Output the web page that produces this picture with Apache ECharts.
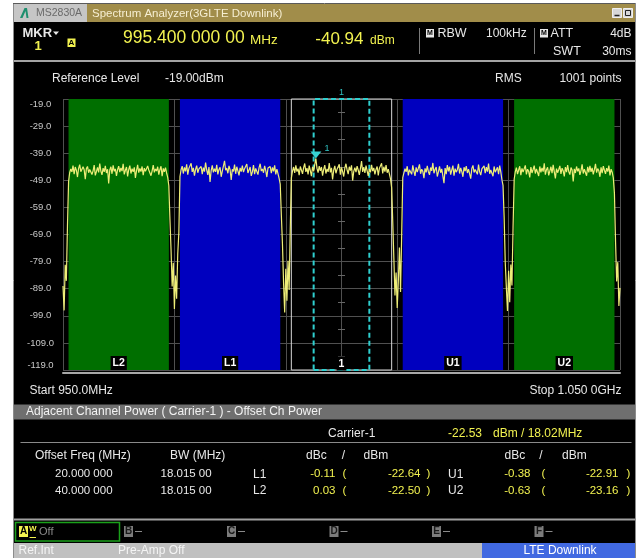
<!DOCTYPE html>
<html>
<head>
<meta charset="utf-8">
<script src="https://cdn.jsdelivr.net/npm/echarts@6/dist/echarts.min.js"></script>
<style>
  html, body { margin: 0; padding: 0; background: #fff; }
  #screen { position: absolute; left: 14px; top: 4px; width: 621px; height: 554px; background: #000; }
  #c { position: absolute; left: 0; top: 0; width: 639px; height: 558px; }
</style>
</head>
<body>
<div id="screen"></div>
<div id="c"></div>
<script>
// ---- sweep settings ----
const sweepStartMHz = 950.0;
const sweepStopMHz = 1050.0;
const stepMHz = 0.2;
const refLevelDbm = -19.0;
const divisionDb = 10;

// ---- channel layout (ACP) ----
const carrierCenterMHz = 1000;
const channelBwMHz = 18.015;
const channelNames = ['L2', 'L1', '1', 'U1', 'U2'];
const channelCentersMHz = [960, 980, 1000, 1020, 1040];

// ---- marker ----
const markerFreqMHz = 995.4;
const markerLevelDbm = -40.94;
const zoneStartMHz = 995;
const zoneStopMHz = 1005;

// ---- ACP results ----
const carrierPowerDbm = -22.53;
const offsetFreqLabels = ['20.000 000', '40.000 000'];
const bwLabels = ['18.015 00', '18.015 00'];
const lowerNames = ['L1', 'L2'];
const upperNames = ['U1', 'U2'];
const lowerDbc = [-0.11, 0.03];
const lowerDbm = [-22.64, -22.50];
const upperDbc = [-0.38, -0.63];
const upperDbm = [-22.91, -23.16];

// ---- trace (dBm), 0.2 MHz per point, one segment per region ----
const skirtStart = [-88.0, -97.0, -80.2, -86.1, -66.0];
const chL2 = [
  -49.5, -46.2, -44.8, -45.9, -43.6, -46.7, -44.1, -45.3, -47.8, -44.6,
  -43.2, -45.8, -46.4, -44.0, -45.1, -48.6, -44.7, -43.9, -46.2, -45.0,
  -44.3, -46.9, -45.5, -43.4, -47.2, -45.8, -44.2, -46.1, -42.8, -45.6,
  -47.0, -44.5, -45.9, -43.7, -46.3, -44.9, -50.2, -45.2, -44.0, -46.6,
  -43.5, -45.7, -44.8, -47.4, -45.1, -43.8, -46.0, -44.4, -45.6, -42.9,
  -46.8, -45.3, -44.1, -47.6, -45.0, -43.6, -46.5, -44.7, -45.9, -44.2,
  -48.1, -45.4, -43.3, -46.2, -44.6, -45.8, -43.9, -47.1, -44.5, -45.7,
  -46.4, -43.7, -45.2, -44.9, -47.3, -45.5, -43.4, -46.1, -44.8, -45.6,
  -44.0, -46.9, -45.1, -43.8, -47.5, -44.6, -45.9, -44.3, -46.3, -47.9
];
const gapL2L1 = [-51.0, -63.5, -74.8, -88.2, -79.4, -96.5, -84.1, -92.7, -76.3, -68.2];
const chL1 = [
  -47.6, -45.1, -43.8, -46.5, -44.2, -45.7, -43.1, -46.9, -44.6, -45.3,
  -42.7, -45.9, -44.4, -47.3, -45.0, -43.6, -46.2, -44.8, -45.5, -43.9,
  -46.7, -44.3, -45.8, -42.5, -45.2, -47.0, -44.1, -49.6, -45.4, -43.5,
  -46.1, -44.7, -45.9, -43.3, -46.8, -45.0, -44.2, -47.7, -45.6, -43.8,
  -41.8, -45.3, -44.5, -46.4, -43.7, -45.1, -48.9, -44.9, -45.7, -43.2,
  -46.6, -44.0, -45.5, -47.2, -44.4, -45.8, -43.6, -46.0, -44.7, -45.3,
  -43.0, -46.3, -45.2, -44.1, -47.4, -45.9, -43.4, -46.7, -44.6, -45.1,
  -46.9, -44.3, -42.9, -45.6, -44.8, -46.2, -43.7, -45.4, -47.8, -44.5,
  -45.0, -43.9, -46.4, -44.2, -45.7, -43.5, -46.8, -44.9, -45.3, -48.3
];
const gapL1C = [-50.4, -61.8, -72.5, -86.9, -97.8, -81.6, -93.4, -78.7, -89.5, -67.1];
const chCarrier = [
  -48.2, -45.6, -44.1, -46.3, -43.5, -45.8, -44.7, -47.1, -43.9, -45.2,
  -46.6, -44.3, -42.8, -45.9, -44.5, -46.8, -43.6, -45.4, -47.5, -44.0,
  -45.7, -43.2, -40.94, -44.6, -46.2, -43.8, -45.5, -44.1, -47.3, -45.0,
  -43.4, -46.5, -44.8, -45.9, -42.6, -46.1, -44.4, -48.7, -45.3, -43.7,
  -46.4, -44.9, -45.6, -43.1, -46.9, -44.2, -45.8, -47.6, -44.5, -42.9,
  -45.1, -46.7, -44.0, -45.4, -43.5, -49.1, -45.7, -44.3, -46.0, -43.8,
  -45.2, -47.0, -44.7, -41.9, -45.9, -44.1, -46.3, -43.6, -45.5, -47.4,
  -44.8, -46.1, -43.3, -45.6, -44.4, -46.8, -45.0, -43.9, -47.2, -44.6,
  -45.3, -42.7, -46.5, -44.0, -45.8, -43.4, -46.2, -44.9, -45.1, -48.5
];
const gapCU1 = [-51.7, -64.2, -77.9, -91.5, -83.0, -96.1, -86.4, -73.8, -90.2, -69.5];
const chU1 = [
  -48.0, -46.3, -44.7, -45.9, -43.8, -47.2, -45.1, -44.4, -46.8, -43.5,
  -45.6, -47.4, -44.2, -46.0, -45.3, -43.1, -46.6, -44.9, -45.7, -48.2,
  -44.6, -46.1, -43.7, -45.8, -47.0, -44.3, -45.5, -42.6, -46.4, -45.0,
  -44.1, -47.6, -45.9, -43.9, -46.2, -44.8, -45.4, -50.1, -44.5, -46.7,
  -43.4, -45.7, -44.0, -46.9, -45.2, -43.6, -47.3, -44.7, -46.0, -45.1,
  -42.9, -46.5, -44.4, -45.8, -47.7, -44.2, -45.6, -43.8, -46.3, -44.9,
  -45.3, -48.4, -44.6, -43.5, -46.1, -45.0, -44.3, -46.8, -43.2, -45.9,
  -47.1, -44.8, -45.5, -43.7, -46.4, -44.1, -45.8, -42.8, -46.6, -45.2,
  -44.5, -47.5, -43.9, -46.0, -45.4, -44.2, -46.7, -43.6, -45.9, -48.8
];
const gapU1U2 = [-50.9, -62.7, -79.3, -88.6, -97.2, -82.4, -94.0, -80.1, -87.8, -66.4];
const chU2 = [
  -48.6, -45.9, -44.3, -46.7, -45.2, -43.8, -47.1, -44.6, -46.0, -45.4,
  -43.5, -46.8, -44.9, -45.7, -47.9, -44.1, -46.3, -45.0, -43.6, -46.5,
  -44.8, -45.3, -47.4, -43.9, -46.1, -44.4, -45.8, -42.7, -46.9, -45.1,
  -44.2, -47.2, -45.6, -44.0, -46.4, -43.3, -45.9, -48.3, -44.7, -46.2,
  -45.0, -43.7, -46.6, -44.5, -45.5, -47.6, -44.1, -46.0, -43.4, -45.8,
  -46.9, -44.3, -45.2, -49.4, -44.8, -46.3, -43.9, -45.7, -44.6, -47.0,
  -45.4, -43.1, -46.5, -44.9, -45.6, -47.3, -44.0, -46.1, -43.7, -45.9,
  -44.4, -46.8, -45.1, -42.9, -46.2, -44.7, -45.5, -47.7, -44.2, -46.4,
  -43.8, -45.3, -46.6, -44.5, -45.8, -43.6, -47.2, -44.9, -46.0, -48.1
];
const skirtStop = [-53.8, -71.5, -86.3, -79.2, -95.4, -88.7];

// each segment with the frequency of its first point
const traceSegments = [
  [950, skirtStart], [951, chL2], [969, gapL2L1], [971, chL1], [989, gapL1C],
  [991, chCarrier], [1009, gapCU1], [1011, chU1], [1029, gapU1U2], [1031, chU2], [1049, skirtStop]
];

// y axis is laid out in dB below the reference level, labelled in dBm
const rel = v => v - refLevelDbm;
const traceData = [];
traceSegments.forEach(([f0, seg]) => {
  seg.forEach((v, i) => traceData.push([+(f0 + i * stepMHz).toFixed(1), rel(v)]));
});

const FONT = '"Liberation Sans", Arial, sans-serif';
const WHITE = '#e8e8e8';
const YELLOW = '#f2f250';
const GREEN_BAND = '#006f00';
const BLUE_BAND = '#0000bf';

const bandColor = name => (name === '1' ? 'rgba(0,0,0,0)' : (name.endsWith('2') ? GREEN_BAND : BLUE_BAND));
const bandAreas = channelNames.map((name, i) => {
  const c = channelCentersMHz[i];
  const isCarrier = name === '1';
  return [
    {
      name,
      xAxis: c - channelBwMHz / 2,
      itemStyle: {
        color: bandColor(name),
        borderColor: isCarrier ? '#d8d8d8' : 'rgba(0,0,0,0)',
        borderWidth: isCarrier ? 1 : 0
      },
      label: {
        show: true, position: 'insideBottom', distance: 0,
        color: '#ffffff', fontSize: 10.5, fontWeight: 'bold', fontFamily: FONT,
        backgroundColor: '#000', padding: [2, 2, 1, 2]
      }
    },
    { xAxis: c + channelBwMHz / 2 }
  ];
});

// ---- helpers for the instrument screen furniture ----
function T(x, y, text, o = {}) {
  const font = (o.weight || 'normal') + ' ' + (o.size || 12) + 'px ' + FONT;
  return {
    type: 'text', x, y, silent: true, z: 10,
    style: {
      text, fill: o.fill || WHITE, font,
      align: o.align || 'left', textAlign: o.align || 'left',
      verticalAlign: 'middle', textVerticalAlign: 'middle'
    }
  };
}
function R(x, y, w, h, fill, stroke, lw) {
  return {
    type: 'rect', silent: true, z: 5, shape: { x, y, width: w, height: h },
    style: { fill: fill || 'none', stroke: stroke || null, lineWidth: lw || 1 }
  };
}
function L(x1, y1, x2, y2, stroke, lw) {
  return {
    type: 'line', silent: true, z: 5, shape: { x1, y1, x2, y2 },
    style: { stroke, lineWidth: lw || 1 }
  };
}
const fmt2 = v => v.toFixed(2);

const graphics = [
  // window frame
  L(13.5, 3, 13.5, 558, '#8c8c8c', 1),
  L(13, 3.5, 636, 3.5, '#5a5a5a', 1),
  L(635.5, 3, 635.5, 558, '#8c8c8c', 1),
  // title bar
  R(14, 4, 73, 18, '#c6c6c6'),
  R(87, 4, 548, 18, '#a18d4a'),
  { type: 'polygon', silent: true, z: 6, shape: { points: [[20, 18], [24.5, 8], [27, 8], [28.5, 18], [26.5, 18], [25.5, 11], [22.5, 18]] }, style: { fill: '#1f8f6f' } },
  T(36, 13.5, 'MS2830A', { size: 10.5, fill: '#6a6a6a' }),
  T(92, 13.5, 'Spectrum Analyzer(3GLTE Downlink)', { size: 11.5, fill: '#f6eed2' }),
  R(612.5, 8.5, 9, 9, '#d8d8d8', '#f0f0f0', 1),
  L(614.5, 15.5, 619.5, 15.5, '#222', 1.5),
  R(623.5, 8.5, 9, 9, '#d8d8d8', '#f0f0f0', 1),
  R(625.5, 10.5, 5, 5, 'none', '#222', 1),

  // marker readout row
  T(22.5, 33.5, 'MKR', { size: 13, weight: 'bold' }),
  { type: 'polygon', silent: true, z: 6, shape: { points: [[53, 31.5], [59, 31.5], [56, 35]] }, style: { fill: WHITE } },
  T(38, 46, '1', { size: 13, weight: 'bold', fill: YELLOW, align: 'center' }),
  R(67.5, 38.5, 8, 8.5, YELLOW),
  T(71.5, 43, 'A', { size: 8, weight: 'bold', fill: '#000', align: 'center' }),
  T(123, 38.5, '995.400 000 00', { size: 17.5, fill: YELLOW }),
  T(250, 40, 'MHz', { size: 13.5, fill: YELLOW }),
  T(363.5, 39, markerLevelDbm.toFixed(2), { size: 17, fill: YELLOW, align: 'right' }),
  T(370, 40.5, 'dBm', { size: 12, fill: YELLOW }),
  L(419.5, 28, 419.5, 54, '#7a7a7a', 1),
  L(534.5, 28, 534.5, 54, '#7a7a7a', 1),
  R(426, 29, 8, 8.5, '#e8e8e8'),
  T(430, 33.3, 'M', { size: 7, weight: 'bold', fill: '#000', align: 'center' }),
  T(437.5, 33.3, 'RBW', { size: 12.5 }),
  T(486, 33.3, '100kHz', { size: 12 }),
  R(540, 29, 8, 8.5, '#e8e8e8'),
  T(544, 33.3, 'M', { size: 7, weight: 'bold', fill: '#000', align: 'center' }),
  T(550.5, 33.3, 'ATT', { size: 12.5 }),
  T(631.5, 33.3, '4dB', { size: 12, align: 'right' }),
  T(553, 51.5, 'SWT', { size: 12.5 }),
  T(631.5, 51.5, '30ms', { size: 12, align: 'right' }),

  L(14, 61, 635, 61, '#a4a4a4', 2),
  T(52, 79, 'Reference Level', { size: 12 }),
  T(165, 79, refLevelDbm.toFixed(2) + 'dBm', { size: 12 }),
  T(495, 79, 'RMS', { size: 12 }),
  T(621.5, 79, '1001 points', { size: 12, align: 'right' }),

  // span readout
  T(29.5, 391, 'Start ' + sweepStartMHz.toFixed(1) + 'MHz', { size: 12 }),
  T(621.5, 391, 'Stop 1.050 0GHz', { size: 12, align: 'right' }),

  // ACP result panel
  R(14, 404.5, 621, 15, '#6f6f6f'),
  T(26, 412, 'Adjacent Channel Power ( Carrier-1 ) - Offset Ch Power', { size: 12, fill: '#f2f2f2' }),
  T(328, 433.5, 'Carrier-1', { size: 12 }),
  T(482, 433.5, fmt2(carrierPowerDbm), { size: 12, fill: YELLOW, align: 'right' }),
  T(493, 433.5, 'dBm / 18.02MHz', { size: 12, fill: YELLOW }),
  L(20.5, 442.5, 631.5, 442.5, '#8a8a8a', 1),
  T(35, 456, 'Offset Freq (MHz)', { size: 12 }),
  T(170, 456, 'BW (MHz)', { size: 12 }),
  T(306, 456, 'dBc', { size: 12 }),
  T(343.5, 456, '/', { size: 12, align: 'center' }),
  T(363.5, 456, 'dBm', { size: 12 }),
  T(504.5, 456, 'dBc', { size: 12 }),
  T(541, 456, '/', { size: 12, align: 'center' }),
  T(562, 456, 'dBm', { size: 12 }),

  // soft-key strip and status bar
  L(14, 519.5, 635, 519.5, '#a0a0a0', 2),
  R(15.5, 522.5, 104, 18.5, 'none', '#1aa01a', 1.5),
  R(19, 526, 9, 11, YELLOW),
  T(23.5, 531.5, 'A', { size: 10, weight: 'bold', fill: '#000', align: 'center' }),
  T(29, 529, 'W', { size: 8, weight: 'bold', fill: YELLOW }),
  L(29.5, 537.5, 36, 537.5, YELLOW, 1),
  T(39, 531.5, 'Off', { size: 11, fill: '#8a8a8a' }),
  R(14, 543, 468, 15, '#c0c0c0'),
  R(482, 543, 153, 15, '#4169e1'),
  T(18.5, 551, 'Ref.Int', { size: 12, fill: '#f4f4f4' }),
  T(118, 551, 'Pre-Amp Off', { size: 12, fill: '#f4f4f4' }),
  T(560, 551, 'LTE Downlink', { size: 12, fill: '#ffffff', align: 'center' })
];

// table rows
[474.3, 491].forEach((y, r) => {
  graphics.push(
    T(55, y, offsetFreqLabels[r], { size: 11.5 }),
    T(160.5, y, bwLabels[r], { size: 11.5 }),
    T(253, y, lowerNames[r], { size: 12 }),
    T(335.5, y, fmt2(lowerDbc[r]), { size: 11.5, fill: YELLOW, align: 'right' }),
    T(342.5, y, '(', { size: 11.5, fill: YELLOW }),
    T(420.5, y, fmt2(lowerDbm[r]), { size: 11.5, fill: YELLOW, align: 'right' }),
    T(426.5, y, ')', { size: 11.5, fill: YELLOW }),
    T(448, y, upperNames[r], { size: 12 }),
    T(530.5, y, fmt2(upperDbc[r]), { size: 11.5, fill: YELLOW, align: 'right' }),
    T(541.5, y, '(', { size: 11.5, fill: YELLOW }),
    T(618.5, y, fmt2(upperDbm[r]), { size: 11.5, fill: YELLOW, align: 'right' }),
    T(626.5, y, ')', { size: 11.5, fill: YELLOW })
  );
});

// trace memory keys B..F
['B', 'C', 'D', 'E', 'F'].forEach((k, i) => {
  const x = [124, 227, 329.5, 432, 534.5][i];
  graphics.push(
    R(x, 526, 9, 11, '#7c7c7c'),
    T(x + 4.5, 531.5, k, { size: 10, weight: 'bold', fill: '#1a1a1a', align: 'center' }),
    L(x + 11, 531.5, x + 18, 531.5, '#8a8a8a', 1)
  );
});

const chart = echarts.init(document.getElementById('c'), null, { renderer: 'canvas' });
chart.setOption({
  animation: false,
  backgroundColor: 'transparent',
  grid: { left: 63, top: 99, width: 557, height: 271, containLabel: false },
  xAxis: {
    type: 'value', min: sweepStartMHz, max: sweepStopMHz, interval: 10,
    axisLabel: { show: false }, axisTick: { show: false },
    axisLine: { show: true, onZero: false, lineStyle: { color: '#a8a8a8', width: 2 } },
    offset: 3,
    splitLine: { show: true, lineStyle: { color: '#505050', width: 1 } }
  },
  yAxis: [
    {
      type: 'value', min: -100, max: 0, interval: divisionDb,
      axisLine: { show: false }, axisTick: { show: false },
      axisLabel: {
        show: true, margin: 22.5, align: 'center', color: '#c8c8c8',
        fontSize: 9.5, fontFamily: FONT,
        verticalAlignMinLabel: 'bottom', verticalAlignMaxLabel: 'top',
        formatter: v => (v + refLevelDbm).toFixed(1)
      },
      splitLine: { show: true, lineStyle: { color: '#505050', width: 1 } }
    },
    {
      // minor graduation on the centre line
      type: 'value', min: -100, max: 0, interval: divisionDb,
      position: 'left', offset: -282,
      axisLine: { show: false }, axisTick: { show: false }, axisLabel: { show: false },
      splitLine: { show: false },
      minorTick: { show: true, splitNumber: 2, length: 7, lineStyle: { color: '#666', width: 1 } }
    }
  ],
  series: [
    {
      name: 'Trace A', type: 'line', data: traceData, yAxisIndex: 0,
      showSymbol: false, symbol: 'none', sampling: false, z: 3,
      lineStyle: { color: '#eeee78', width: 1.2 },
      markArea: { silent: true, data: bandAreas },
      markPoint: {
        silent: true,
        data: [{
          coord: [markerFreqMHz, rel(markerLevelDbm)],
          symbol: 'triangle', symbolRotate: 180, symbolSize: [11, 7], symbolOffset: [0, '-50%'],
          itemStyle: { color: '#36d4d4' },
          label: { show: true, formatter: '1', position: 'right', distance: 3, offset: [0, -6], color: '#2fc4c4', fontSize: 9, fontFamily: FONT }
        }]
      }
    },
    {
      name: 'Marker zone', type: 'line', data: [], yAxisIndex: 0, z: 5,
      markArea: {
        silent: true,
        data: [[
          {
            xAxis: zoneStartMHz,
            itemStyle: { color: 'rgba(0,0,0,0)', borderColor: '#2fcfcf', borderWidth: 2, borderType: [5, 3] },
            label: { show: true, position: 'top', distance: 1, formatter: '1', color: '#2fbfbf', fontSize: 9, fontFamily: FONT }
          },
          { xAxis: zoneStopMHz }
        ]]
      }
    }
  ],
  graphic: { elements: graphics }
});
</script>
</body>
</html>
